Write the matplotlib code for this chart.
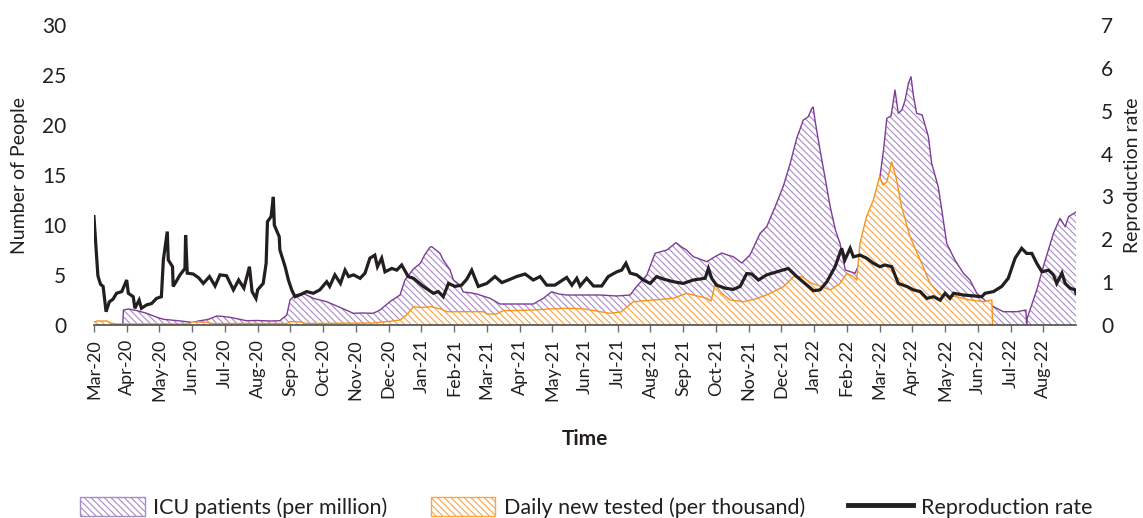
import matplotlib
matplotlib.use("Agg")
import matplotlib.pyplot as plt
import matplotlib.patches as mpatches
import matplotlib.lines as mlines
import numpy as np

plt.rcParams['font.family'] = ['Lato', 'DejaVu Sans']
plt.rcParams['hatch.linewidth'] = 0.8

# x axis is in months since the start of Mar-20
month_labels = ['Mar-20', 'Apr-20', 'May-20', 'Jun-20', 'Jul-20', 'Aug-20', 'Sep-20', 'Oct-20',
                'Nov-20', 'Dec-20', 'Jan-21', 'Feb-21', 'Mar-21', 'Apr-21', 'May-21', 'Jun-21',
                'Jul-21', 'Aug-21', 'Sep-21', 'Oct-21', 'Nov-21', 'Dec-21', 'Jan-22', 'Feb-22',
                'Mar-22', 'Apr-22', 'May-22', 'Jun-22', 'Jul-22', 'Aug-22']

# ICU patients (per million)
icu_t = [0, 0.88, 0.9, 1.05, 1.3, 1.61, 1.9, 2.12, 2.5, 2.83, 3.0, 3.2, 3.5, 3.75, 3.95, 4.15,
         4.4, 4.66, 5.0, 5.4, 5.68, 5.89, 5.99, 6.14, 6.39, 6.7, 7.11, 7.42, 7.7, 7.92, 8.2,
         8.53, 8.74, 9.04, 9.35, 9.5, 9.76, 9.97, 10.1, 10.27, 10.32, 10.57, 10.67, 10.88,
         10.98, 11.18, 11.28, 11.54, 11.69, 12.1, 12.4, 12.91, 13.42, 13.73, 13.98, 14.2,
         14.44, 14.95, 15.46, 15.97, 16.38, 16.53, 16.89, 17.14, 17.5, 17.78, 17.95, 18.1,
         18.31, 18.72, 18.97, 19.18, 19.35, 19.53, 19.79, 20.04, 20.35, 20.55, 20.81, 21.06,
         21.27, 21.47, 21.67, 21.82, 21.93, 21.97, 22.03, 22.18, 22.33, 22.49, 22.65, 22.79,
         22.95, 23.25, 23.5, 23.75, 24.01, 24.12, 24.22, 24.35, 24.47, 24.57, 24.68, 24.78,
         24.88, 24.96, 25.03, 25.13, 25.3, 25.49, 25.59, 25.79, 25.9, 26.05, 26.3, 26.56,
         26.76, 26.97, 27.38, 27.78, 28.19, 28.47, 28.49, 28.51, 28.8, 29.0, 29.31, 29.51,
         29.67, 29.77, 29.97, 30.0]
icu_v = [0, 0, 1.5, 1.6, 1.45, 1.17, 0.8, 0.57, 0.45, 0.33, 0.25, 0.4, 0.57, 0.9, 0.85, 0.77,
         0.6, 0.43, 0.45, 0.4, 0.43, 1.0, 2.5, 3.0, 3.17, 2.67, 2.33, 1.9, 1.5, 1.17, 1.2,
         1.17, 1.5, 2.33, 3.0, 4.5, 5.6, 6.17, 7.0, 7.8, 7.83, 7.17, 6.5, 5.5,
         4.5, 4.0, 3.3, 3.2, 3.1, 2.67, 2.1, 2.1, 2.1, 2.67, 3.33, 3.1,
         3.0, 3.0, 3.0, 2.9, 3.0, 3.67, 5.0, 7.17, 7.5, 8.23, 7.8, 7.5,
         6.83, 6.33, 6.83, 7.2, 7.0, 6.83, 6.2, 7.0, 9.17, 9.83, 11.83, 13.9,
         16.17, 18.7, 20.5, 20.83, 21.67, 21.8, 20.4, 17.5, 14.8, 11.83, 9.5, 8.17,
         5.5, 5.17, 7.0, 11.0, 14.8, 17.5, 20.67, 20.9, 23.5, 21.17, 21.5, 22.5,
         24.17, 24.83, 23.0, 21.17, 21.0, 18.83, 16.17, 13.83, 11.5, 8.17, 6.5, 5.17,
         4.5, 3.17, 2.0, 1.33, 1.33, 1.5, 0, 0.7, 3.5, 5.83, 9.17, 10.67,
         9.83, 10.83, 11.23, 11.3]

# Daily new tested (per thousand)
test_t = [0, 0.1, 0.4, 0.5, 0.7, 2.9, 3.0, 3.4, 3.6, 5.9, 6.0, 6.3, 6.5, 8.5, 9.0, 9.35, 9.55,
          9.76, 10.0, 10.3, 10.6, 10.78, 11.5, 11.9, 12.0, 12.3, 12.5, 13.0, 13.42, 13.9,
          14.44, 15.0, 15.46, 15.76, 16.1, 16.48, 17.09, 17.7, 18.1, 18.31, 18.72, 18.85,
          18.97, 19.18, 19.43, 19.84, 20.2, 20.55, 21.06, 21.37, 21.62, 21.93, 22.23, 22.49,
          22.79, 23.0, 23.2, 23.3, 23.4, 23.6, 23.81, 24.0, 24.1, 24.22, 24.37, 24.52, 24.67,
          24.93, 25.24, 25.54, 25.85, 26.35, 26.76, 27.17, 27.43, 27.45]
test_v = [0.3, 0.4, 0.4, 0.2, 0.1, 0.1, 0.3, 0.3, 0.15, 0.15, 0.35, 0.3, 0.15, 0.2, 0.35, 0.5, 1.0,
          1.83, 1.75, 1.83, 1.6, 1.33, 1.33, 1.33, 1.1, 1.1, 1.43, 1.45, 1.5, 1.6,
          1.67, 1.6, 1.33, 1.17, 1.3, 2.33, 2.5, 2.67, 3.17, 3.0, 2.67, 2.4,
          4.0, 3.17, 2.5, 2.33, 2.6, 3.0, 3.83, 4.83, 4.83, 4.17, 3.83, 3.5,
          4.17, 5.17, 4.83, 4.5, 8.17, 10.83, 12.5, 14.83, 14.0, 14.3, 16.33, 14.5, 11.83,
          8.83, 6.5, 4.17, 3.0, 2.83, 2.5, 2.33, 2.5, 0]

# Reproduction rate
rep_t = [0, 0.12, 0.2, 0.28, 0.37, 0.47, 0.58, 0.69, 0.85, 1.0, 1.05, 1.2, 1.25, 1.38, 1.45,
         1.61, 1.76, 1.91, 2.06, 2.12, 2.24, 2.27, 2.4, 2.42, 2.5, 2.63, 2.78, 2.8, 2.85, 3.03,
         3.2, 3.34, 3.53, 3.7, 3.85, 4.05, 4.26, 4.42, 4.58, 4.75, 4.83, 4.95, 5.0, 5.17, 5.26,
         5.3, 5.41, 5.48, 5.51, 5.66, 5.68, 5.84, 5.94, 6.04, 6.14, 6.28, 6.5, 6.7, 6.9, 7.11,
         7.2, 7.36, 7.53, 7.67, 7.78, 7.93, 8.13, 8.28, 8.43, 8.58, 8.66, 8.79, 8.89, 9.1, 9.25,
         9.4, 9.6, 9.76, 10.06, 10.37, 10.52, 10.67, 10.83, 11.03, 11.23, 11.39, 11.54, 11.74,
         12.0, 12.25, 12.46, 12.66, 12.91, 13.17, 13.42, 13.63, 13.83, 14.08, 14.24, 14.44,
         14.6, 14.75, 14.85, 15.05, 15.26, 15.51, 15.71, 15.97, 16.12, 16.25, 16.38, 16.58,
         16.78, 16.99, 17.19, 17.4, 17.7, 18.0, 18.31, 18.67, 18.77, 18.87, 19.02, 19.28,
         19.53, 19.74, 19.94, 20.09, 20.3, 20.55, 20.86, 21.21, 21.47, 21.72, 21.98, 22.18,
         22.39, 22.64, 22.84, 22.94, 23.1, 23.2, 23.4, 23.6, 23.81, 24.01, 24.16, 24.37,
         24.57, 24.83, 25.03, 25.24, 25.44, 25.65, 25.85, 26.0, 26.15, 26.26, 26.56, 26.86,
         27.12, 27.22, 27.48, 27.73, 27.93, 28.14, 28.34, 28.49, 28.65, 28.8, 28.96, 29.16,
         29.31, 29.41, 29.57, 29.67, 29.82, 29.97, 30.0]
rep_v = [2.53, 1.15, 0.95, 0.9, 0.31, 0.54, 0.6, 0.74, 0.78, 1.05, 0.74, 0.66, 0.39, 0.58, 0.39,
         0.47, 0.5, 0.62, 0.66, 1.52, 2.18, 1.52, 1.36, 0.9, 1.0, 1.17, 1.32, 2.1, 1.21, 1.19,
         1.1, 0.97, 1.13, 0.91, 1.17, 1.15, 0.82, 1.05, 0.86, 1.36, 0.78, 0.62, 0.82, 0.97, 1.44,
         2.41, 2.53, 2.99, 2.33, 2.06, 1.75, 1.36, 1.05, 0.82, 0.66, 0.7, 0.78, 0.74, 0.82, 1.01,
         0.9, 1.17, 0.97, 1.28, 1.13, 1.17, 1.09, 1.21, 1.56, 1.63, 1.36, 1.56, 1.24, 1.32, 1.28,
         1.4, 1.13, 1.09, 0.9, 0.74, 0.78, 0.66, 0.97, 0.9, 0.93, 1.07, 1.28, 0.9,
         0.97, 1.13, 0.99, 1.05, 1.13, 1.19, 1.05, 1.13, 0.93, 0.93, 1.01, 1.11,
         0.93, 1.09, 0.91, 1.09, 0.91, 0.91, 1.13, 1.24, 1.28, 1.44, 1.21, 1.17,
         1.05, 0.97, 1.13, 1.07, 1.01, 0.97, 1.05, 1.09, 1.32, 1.09, 0.93, 0.86,
         0.83, 0.9, 1.2, 1.19, 1.05, 1.17, 1.24, 1.32, 1.13, 0.97, 0.8, 0.82,
         1.01, 1.36, 1.79, 1.52, 1.79, 1.59, 1.63, 1.56, 1.44, 1.36, 1.4, 1.36,
         0.97, 0.9, 0.82, 0.78, 0.62, 0.66, 0.58, 0.74, 0.62, 0.74, 0.7, 0.68,
         0.66, 0.74, 0.78, 0.9, 1.09, 1.56, 1.79, 1.67, 1.67, 1.44, 1.24, 1.28,
         1.17, 0.97, 1.21, 0.97, 0.86, 0.82, 0.74]

purple_edge = '#7d3c98'
purple_hatch = '#a88bc7'
orange_edge = '#f7941d'
orange_hatch = '#f9a54a'
text_col = '#231f20'
hatch_pat = '\\' * 5

fig = plt.figure(figsize=(11.43, 5.18), dpi=100)
ax = fig.add_axes([0.0822, 0.3726, 0.8592, 0.5791])

# ICU area: hatch only, edge drawn as a separate line
ax.fill_between(icu_t, icu_v, 0, facecolor='white', edgecolor=purple_hatch,
                hatch=hatch_pat, linewidth=0, zorder=2)
ax.plot(icu_t, icu_v, color=purple_edge, lw=1.0, zorder=3)

# tests area sits on top with a white face
ax.fill_between(test_t, test_v, 0, facecolor='white', edgecolor=orange_hatch,
                hatch=hatch_pat, linewidth=0, zorder=4)
ax.plot(test_t, test_v, color=orange_edge, lw=1.0, zorder=5)

ax.set_xlim(0, 30)
ax.set_ylim(0, 30)
ax.set_yticks(np.arange(0, 31, 5))
ax.set_xticks(np.arange(len(month_labels)))
ax.set_xticklabels(month_labels, rotation=90, fontsize=13, color=text_col)
ax.tick_params(axis='x', length=5, width=1, color='#6d6e71', pad=5)
ax.tick_params(axis='y', length=0, labelsize=15, labelcolor=text_col, pad=20)
for s in ['top', 'left', 'right']:
    ax.spines[s].set_visible(False)
ax.spines['bottom'].set_color('#4d4d4f')
ax.spines['bottom'].set_linewidth(1.2)
ax.spines['bottom'].set_zorder(6)
ax.set_ylabel('Number of People', fontsize=14, color=text_col, labelpad=10)
ax.set_xlabel('Time', fontsize=15, fontweight='bold', color=text_col, labelpad=20)

ax2 = ax.twinx()
ax2.plot(rep_t, rep_v, color=text_col, lw=2.3, solid_joinstyle='miter', zorder=6)
ax2.set_ylim(0, 7)
ax2.set_yticks(np.arange(0, 8, 1))
ax2.tick_params(axis='y', length=0, labelsize=15, labelcolor=text_col, pad=18)
for s in ['top', 'left', 'right', 'bottom']:
    ax2.spines[s].set_visible(False)
ax2.set_ylabel('Reproduction rate', fontsize=14, color=text_col, labelpad=8)

h1 = mpatches.Patch(facecolor='white', edgecolor=purple_hatch, hatch=hatch_pat)
h2 = mpatches.Patch(facecolor='white', edgecolor=orange_hatch, hatch=hatch_pat)
h3 = mlines.Line2D([], [], color=text_col, lw=3.5)
fig.legend([h1, h2, h3],
           ['ICU patients (per million)', 'Daily new tested (per thousand)', 'Reproduction rate'],
           loc='center', bbox_to_anchor=(0.513, 0.021), ncol=3, frameon=False,
           fontsize=15.5, handlelength=3.0, handleheight=1.0, handletextpad=0.4,
           columnspacing=2.0, labelcolor=text_col)

fig.savefig('out.png', dpi=100, facecolor='white')
